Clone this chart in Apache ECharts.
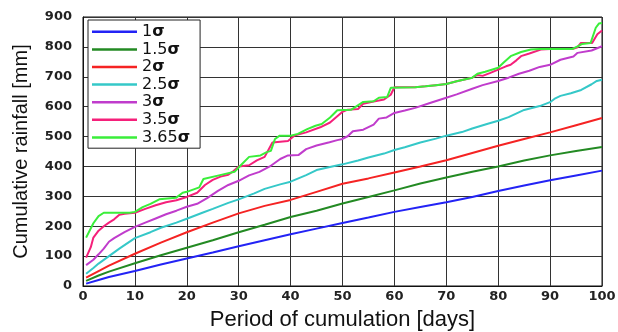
<!DOCTYPE html>
<html><head><meta charset="utf-8">
<script src="https://cdn.jsdelivr.net/npm/echarts@6/dist/echarts.min.js"></script>
<style>html,body{margin:0;padding:0;background:#fff}#c{width:618px;height:332px}</style>
</head><body><div id="c"></div>
<script>
const seriesNames = ['1σ','1.5σ','2σ','2.5σ','3σ','3.5σ','3.65σ'];
const xTicks = [0,10,20,30,40,50,60,70,80,90,100];
const yTicks = [0,100,200,300,400,500,600,700,800,900];
const s1 = [[0.6,8],[3,20],[5,30],[10,50],[15,72],[20,92],[25,112],[30,133],[35,153],[40,173],[45,192],[50,211],[55,229],[60,248],[65,264],[70,280],[75,298],[80,318],[85,336],[90,354],[95,370],[100,386]];
const s15 = [[0.6,17],[3,35],[5,48],[10,76],[15,103],[20,128],[25,153],[30,180],[35,205],[40,231],[45,252],[50,276],[55,298],[60,320],[65,343],[70,363],[75,382],[80,400],[85,420],[90,437],[95,452],[100,465]];
const s2 = [[0.6,28],[3,50],[5,68],[10,108],[15,145],[20,180],[25,212],[30,243],[35,268],[40,288],[45,315],[50,342],[55,360],[60,380],[65,400],[70,421],[75,445],[80,469],[85,492],[90,514],[95,538],[100,562]];
const s25 = [[0.6,41],[2,60],[3,75],[5,100],[7,125],[10,160],[13,180],[15,195],[18,212],[20,225],[23,245],[25,258],[28,278],[30,290],[33,310],[35,325],[38,340],[40,349],[43,371],[45,388],[48,400],[50,407],[53,420],[55,430],[58,443],[60,455],[62,464],[65,480],[68,493],[70,503],[73,515],[75,527],[78,543],[80,553],[82,565],[85,589],[88,602],[90,615],[91,628],[92,636],[94,645],[96,656],[98,675],[99,686],[100,690]];
const s3 = [[0.6,70],[2,88],[3,106],[4,125],[5,148],[6,160],[8,180],[10,198],[12,212],[14,226],[16,240],[18,252],[20,265],[22,275],[24,295],[26,318],[28,338],[30,352],[32,370],[34,382],[36,400],[38,425],[39.5,437],[41.5,438],[43,458],[45,470],[47.5,481],[49,488],[50,492],[51,501],[52,518],[54,523],[56,540],[57,560],[58.5,564],[60,579],[62,587],[64,596],[67,613],[70,630],[72,641],[75,660],[77,672],[80,686],[82,697],[84,710],[86,720],[88,733],[90,740],[92,757],[94.5,768],[95.3,780],[98,788],[100,802]];
const s35 = [[0.6,95],[1.5,130],[2,162],[3,185],[4,200],[5,212],[6,223],[7,238],[8,242],[10,245],[12,258],[14,270],[16,280],[18,287],[20,298],[22,312],[23.5,338],[25,355],[26.5,366],[28,372],[29,385],[30,400],[32,404],[33.5,420],[35,432],[36.5,480],[39.5,485],[40.7,503],[43,514],[45.7,531],[47.6,547],[49,568],[50,583],[51,590],[53,592],[54,610],[56,617],[58,624],[59.3,640],[60,665],[64,665],[66,668],[68,672],[70,676],[72,685],[75,697],[76,706],[77,703],[78.5,713],[80,724],[81.5,735],[82.4,740],[83.5,755],[84.4,769],[86,778],[88.2,791],[90,793],[94.3,793],[95.3,799],[95.9,813],[98.1,813],[99.1,842],[100,855]];
const s365 = [[0.6,162],[2,210],[3,234],[4,245],[9,245],[10,248],[11.5,264],[13,275],[14.7,290],[17.9,295],[19.2,312],[20,315],[22.4,330],[23.2,358],[26.4,371],[29.2,382],[30.4,404],[32,432],[34.2,437],[35.4,448],[36.2,452],[37,492],[37.9,503],[40,503],[41.4,509],[43.2,525],[44.8,536],[46,542],[47.6,564],[49,588],[51.7,590],[54,616],[56,618],[57,630],[58.6,632],[59.3,663],[64,665],[66,668],[68,672],[70,676],[72,685],[75,697],[76,710],[77.5,717],[80,730],[81,747],[82.4,769],[84.4,783],[86.3,791],[88,793],[94.3,793],[95.3,802],[96.2,810],[97.8,813],[98.8,864],[99.4,878],[100,880]];
const allData = [s1, s15, s2, s25, s3, s35, s365];
const colors = ['#2323f5','#238a23','#f52323','#35c8c8','#c03ccc','#f5207a','#3aee3a'];

const chart = echarts.init(document.getElementById('c'), null, {renderer:'canvas'});
const tickFont = {fontFamily:'DejaVu Sans', fontWeight:'bold', fontSize:13, color:'#222'};
chart.setOption({
  animation:false,
  backgroundColor:'#fff',
  grid:{left:83, right:16, top:17, bottom:46, show:true, borderColor:'#111', borderWidth:1, outerBoundsMode:'none', containLabel:false},
  legend:{
    orient:'vertical', left:88, top:20,
    backgroundColor:'#fff', borderColor:'#222', borderWidth:1,
    padding:[3,10,2,4], itemGap:0, itemWidth:45, itemHeight:2.5, icon:'rect',
    data:seriesNames,
    formatter: n => '{a|' + n.replace('σ','') + '}{b|σ}',
    textStyle:{fontFamily:'DejaVu Sans', fontSize:16, lineHeight:17.6, color:'#111',
      rich:{a:{fontFamily:'DejaVu Sans', fontSize:16, lineHeight:17.6, color:'#111'},
            b:{fontFamily:'DejaVu Sans', fontWeight:'bold', fontSize:16, lineHeight:17.6, color:'#111'}}}
  },
  xAxis:{
    type:'value', min:xTicks[0], max:xTicks[xTicks.length-1], interval:10,
    name:'Period of cumulation [days]', nameLocation:'middle', nameGap:23,
    nameTextStyle:{fontFamily:'Liberation Sans', fontSize:22, color:'#111'},
    axisLine:{show:true, lineStyle:{color:'#111', width:1}},
    axisTick:{show:false},
    axisLabel:Object.assign({margin:4}, tickFont),
    splitLine:{show:true, lineStyle:{color:'#333', width:1}}
  },
  yAxis:{
    type:'value', min:yTicks[0], max:yTicks[yTicks.length-1], interval:100,
    name:'Cumulative rainfall [mm]', nameLocation:'middle', nameGap:52,
    nameTextStyle:{fontFamily:'Liberation Sans', fontSize:20, color:'#111'},
    axisLine:{show:true, lineStyle:{color:'#111', width:1}},
    axisTick:{show:false},
    axisLabel:Object.assign({margin:11}, tickFont),
    splitLine:{show:true, lineStyle:{color:'#333', width:1}}
  },
  series: seriesNames.map((n,i)=>({
    name:n, type:'line', data:allData[i], showSymbol:false, symbol:'none',
    color:colors[i], lineStyle:{width:2, color:colors[i]}, z:2+i
  }))
});
</script></body></html>
